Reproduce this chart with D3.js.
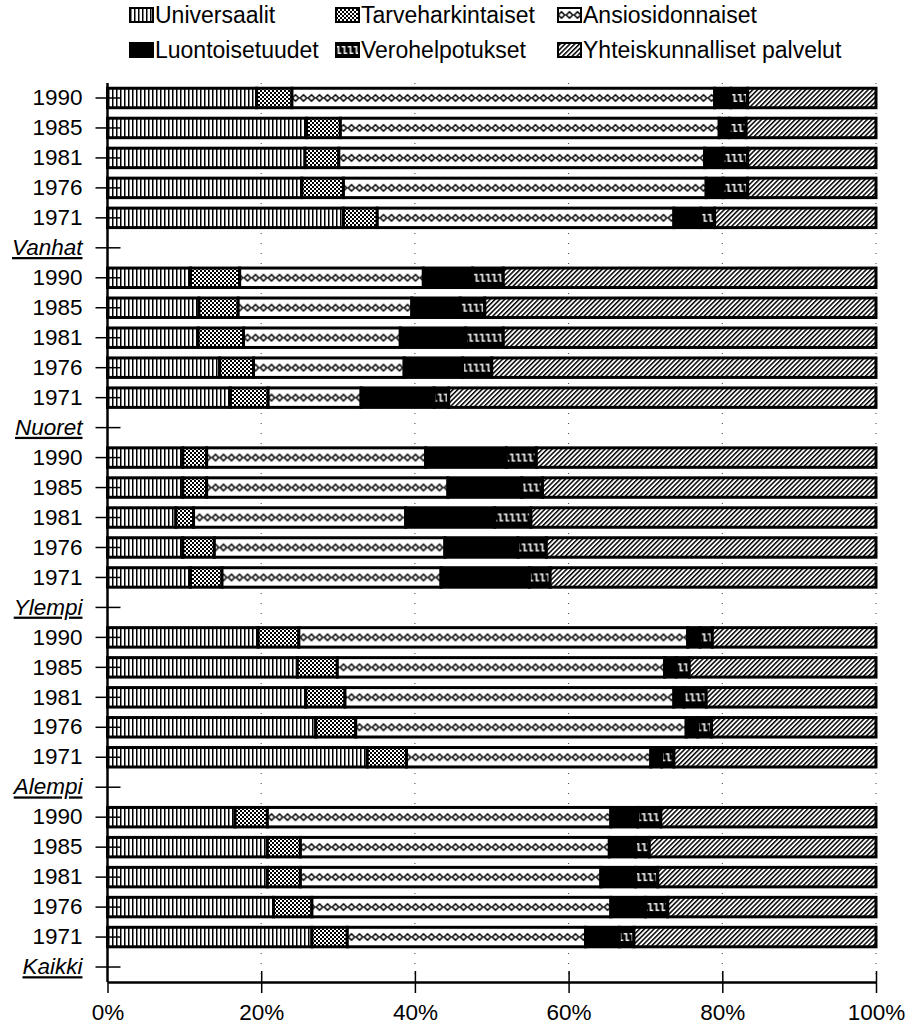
<!DOCTYPE html>
<html>
<head>
    <meta charset="utf-8">
    <script src="https://cdn.jsdelivr.net/npm/d3@7"></script>
    <style>
        body { margin: 0; background: #fff; }
        text { font-family: "Liberation Sans", Arial, sans-serif; fill: #000; }
    </style>
</head>

<body>
<div id="chart"></div>

<script>

    // categories: groups (bottom label of each block) and years (top to bottom)
    var groups = ["Vanhat", "Nuoret", "Ylempi", "Alempi", "Kaikki"];
    var years = ["1990", "1985", "1981", "1976", "1971"];

    var seriesNames = ["Universaalit", "Tarveharkintaiset", "Ansiosidonnaiset",
                       "Luontoisetuudet", "Verohelpotukset", "Yhteiskunnalliset palvelut"];

    // shares in %, 5 values per group in the order of years
    var universaalit = [
        19.4, 25.9, 25.7, 25.3, 30.7,   // Vanhat
        10.8, 11.9, 11.8, 14.6, 16.0,   // Nuoret
         9.8,  9.8,  8.9,  9.8, 10.8,   // Ylempi
        19.6, 24.7, 25.8, 27.1, 33.8,   // Alempi
        16.6, 20.8, 20.8, 21.6, 26.6    // Kaikki
    ];
    var tarveharkintaiset = [
        4.6, 4.4, 4.4, 5.4, 4.4,
        6.4, 5.1, 5.9, 4.4, 4.9,
        3.1, 3.1, 2.3, 4.1, 4.1,
        5.3, 5.2, 5.1, 5.2, 5.1,
        4.2, 4.3, 4.3, 5.0, 4.6
    ];
    var ansiosidonnaiset = [
        55.0, 49.3, 47.6, 47.2, 38.6,
        23.9, 22.6, 20.4, 19.6, 12.1,
        28.5, 31.4, 27.6, 30.0, 28.5,
        50.6, 42.6, 42.8, 43.0, 31.8,
        44.7, 40.2, 39.1, 38.9, 31.0
    ];
    var luontoisetuudet = [
         2.1,  1.3,  2.4,  2.2,  3.5,
         6.4,  6.3,  8.5,  7.6,  9.5,
        10.5,  9.6, 11.6,  9.5, 11.5,
         1.6,  1.5,  1.3,  1.5,  1.4,
         3.5,  3.4,  4.5,  4.5,  4.4
    ];
    var verohelpotukset = [
        2.2, 2.2, 3.2, 3.2, 1.8,
        4.0, 3.2, 4.9, 3.8, 1.9,
        3.9, 2.7, 4.7, 3.7, 2.7,
        1.6, 1.7, 2.9, 1.8, 1.6,
        3.0, 1.8, 2.9, 2.9, 1.9
    ];
    var yhteiskunnalliset = [
        16.7, 16.9, 16.7, 16.7, 21.0,
        48.5, 50.9, 48.5, 50.0, 55.6,
        44.2, 43.4, 44.9, 42.9, 42.4,
        21.3, 24.3, 22.1, 21.4, 26.3,
        28.0, 29.5, 28.4, 27.1, 31.5
    ];

    var xTicks = [0, 20, 40, 60, 80, 100];

    var seriesValues = [universaalit, tarveharkintaiset, ansiosidonnaiset,
                        luontoisetuudet, verohelpotukset, yhteiskunnalliset];

    // rows top to bottom: the five years, then the group label
    var rows = [];
    groups.forEach(function(g, gi) {
        years.forEach(function(yr, yi) {
            var row = { key: "r" + rows.length, label: yr, isGroup: false };
            seriesNames.forEach(function(s, si) { row[s] = seriesValues[si][gi * 5 + yi]; });
            rows.push(row);
        });
        var head = { key: "r" + rows.length, label: g, isGroup: true };
        seriesNames.forEach(function(s) { head[s] = 0; });
        rows.push(head);
    });

    var width = 908;
    var height = 1028;
    var plot = { left: 107.5, right: 876, top: 83, bottom: 982 };

    var xScale = d3.scaleLinear()
        .domain([0, 100])
        .range([plot.left, plot.right]);

    var yScale = d3.scaleBand()
        .domain(rows.map(function(d) { return d.key; }))
        .range([plot.top, plot.bottom])
        .paddingInner(0.35)
        .paddingOuter(0.175);

    var step = yScale.step();
    var bw = yScale.bandwidth();

    var svg = d3.select('#chart').append('svg')
        .attr('width', width)
        .attr('height', height);

    var defs = svg.append('defs');

    // ---- fill patterns ----
    function simplePattern(id, w, h, bg) {
        var p = defs.append('pattern')
            .attr('id', id)
            .attr('patternUnits', 'userSpaceOnUse')
            .attr('width', w)
            .attr('height', h);
        p.append('rect').attr('width', w).attr('height', h).attr('fill', bg);
        return p;
    }

    // one row of marks per bar: origin/period set so marks sit on the bar centre line
    function rowPattern(id, x0, w, y0, period, bg) {
        var p = defs.append('pattern')
            .attr('id', id)
            .attr('patternUnits', 'userSpaceOnUse')
            .attr('x', x0)
            .attr('y', y0)
            .attr('width', w)
            .attr('height', period);
        p.append('rect').attr('width', w).attr('height', period).attr('fill', bg);
        return p;
    }

    function diamond(p, cy) {
        p.append('path')
            .attr('d', 'M4,' + (cy - 3.2) + 'L7.2,' + cy + 'L4,' + (cy + 3.2) + 'L0.8,' + cy + 'Z')
            .attr('fill', 'none').attr('stroke', '#000').attr('stroke-width', 1.6);
    }

    function zigzag(p, cy) {
        p.append('path')
            .attr('d', 'M0.3,' + (cy - 3.2) + 'H3V' + (cy + 3.2) + 'H5.7')
            .attr('fill', 'none').attr('stroke', '#fff').attr('stroke-width', 1.5);
    }

    var pU = simplePattern('pat-u', 4, 4, '#fff');
    pU.append('rect').attr('x', 0).attr('width', 1.5).attr('height', 4).attr('fill', '#000');

    var pT = simplePattern('pat-t', 4, 4, '#000');
    pT.append('rect').attr('x', 0).attr('y', 0).attr('width', 2).attr('height', 2).attr('fill', '#fff');
    pT.append('rect').attr('x', 2).attr('y', 2).attr('width', 2).attr('height', 2).attr('fill', '#fff');

    var pY = simplePattern('pat-y', 3.4, 3.4, '#fff')
        .attr('patternTransform', 'rotate(45)');
    pY.append('rect').attr('x', 0).attr('width', 1.5).attr('height', 3.4).attr('fill', '#000');

    // bars
    var pA = rowPattern('pat-a', plot.left, 8, plot.top, step, '#fff');
    diamond(pA, step / 2);
    var pV = rowPattern('pat-v', plot.left, 6, plot.top, step, '#000');
    zigzag(pV, step / 2);

    // legend swatches (local coordinates, centre line at y = 0)
    var pA2 = rowPattern('pat-a2', 7.5, 8, -10, 20, '#fff');
    diamond(pA2, 10);
    var pV2 = rowPattern('pat-v2', 5.5, 6, -10, 20, '#000');
    zigzag(pV2, 10);

    var barFills = ['url(#pat-u)', 'url(#pat-t)', 'url(#pat-a)', '#000', 'url(#pat-v)', 'url(#pat-y)'];
    var legendFills = ['url(#pat-u)', 'url(#pat-t)', 'url(#pat-a2)', '#000', 'url(#pat-v2)', 'url(#pat-y)'];

    // ---- gridlines ----
    svg.append('g')
        .selectAll('line')
        .data(xTicks.slice(1))
        .enter()
        .append('line')
        .attr('x1', function(d) { return xScale(d); })
        .attr('x2', function(d) { return xScale(d); })
        .attr('y1', plot.top)
        .attr('y2', plot.bottom)
        .attr('stroke', '#444')
        .attr('stroke-width', 1)
        .attr('stroke-dasharray', '1,9');

    // ---- bars ----
    var stack = d3.stack().keys(seriesNames);
    var layers = stack(rows);

    svg.append('g')
        .selectAll('g.layer')
        .data(layers)
        .enter()
        .append('g')
        .attr('class', 'layer')
        .attr('fill', function(d, i) { return barFills[i]; })
        .selectAll('rect')
        .data(function(d) { return d.filter(function(e) { return !e.data.isGroup; }); })
        .enter()
        .append('rect')
        .attr('x', function(d) { return xScale(d[0]); })
        .attr('width', function(d) { return xScale(d[1]) - xScale(d[0]); })
        .attr('y', function(d) { return yScale(d.data.key); })
        .attr('height', bw)
        .attr('stroke', '#000')
        .attr('stroke-width', 3);

    // ---- axes ----
    var labelOf = {};
    rows.forEach(function(r) { labelOf[r.key] = r; });

    var yAxis = svg.append('g')
        .attr('transform', 'translate(' + plot.left + ',0)')
        .call(d3.axisLeft(yScale)
            .tickSize(12)
            .tickSizeOuter(0)
            .tickPadding(13)
            .tickFormat(function(k) { return labelOf[k].label; }));

    yAxis.select('.domain').attr('stroke', '#000').attr('stroke-width', 2.5)
        .attr('d', 'M0,' + plot.top + 'V' + plot.bottom);
    yAxis.selectAll('.tick line').attr('x1', 13).attr('stroke', '#000').attr('stroke-width', 1.5);
    yAxis.selectAll('.tick text')
        .attr('font-size', 22.5)
        .attr('font-family', '"Liberation Sans", Arial, sans-serif')
        .attr('fill', '#000')
        .style('font-style', function(k) { return labelOf[k].isGroup ? 'italic' : 'normal'; })
        .style('text-decoration', function(k) { return labelOf[k].isGroup ? 'underline' : 'none'; });

    var xAxis = svg.append('g')
        .attr('transform', 'translate(0,' + plot.bottom + ')')
        .call(d3.axisBottom(xScale)
            .tickValues(xTicks)
            .tickSize(11)
            .tickSizeOuter(0)
            .tickPadding(11)
            .tickFormat(function(d) { return d + '%'; }));

    xAxis.select('.domain').attr('stroke', '#000').attr('stroke-width', 2.5);
    xAxis.selectAll('.tick line').attr('y1', function(d) { return d === 0 ? 0 : -11; })
        .attr('stroke', '#000').attr('stroke-width', 1.5);
    xAxis.selectAll('.tick text')
        .attr('font-size', 22.5)
        .attr('font-family', '"Liberation Sans", Arial, sans-serif')
        .attr('fill', '#000');

    // ---- legend ----
    var legendX = [130, 336, 558];
    var legendY = [15, 50];

    var legend = svg.append('g')
        .selectAll('g')
        .data(seriesNames)
        .enter()
        .append('g')
        .attr('transform', function(d, i) {
            return 'translate(' + legendX[i % 3] + ',' + legendY[Math.floor(i / 3)] + ')';
        });

    legend.append('rect')
        .attr('x', 0)
        .attr('y', -7)
        .attr('width', 23)
        .attr('height', 14)
        .attr('fill', function(d, i) { return legendFills[i]; })
        .attr('stroke', '#000')
        .attr('stroke-width', 2);

    legend.append('text')
        .attr('x', 25)
        .attr('y', 8)
        .attr('font-size', 23)
        .text(function(d) { return d; });

</script>
</body>
</html>
